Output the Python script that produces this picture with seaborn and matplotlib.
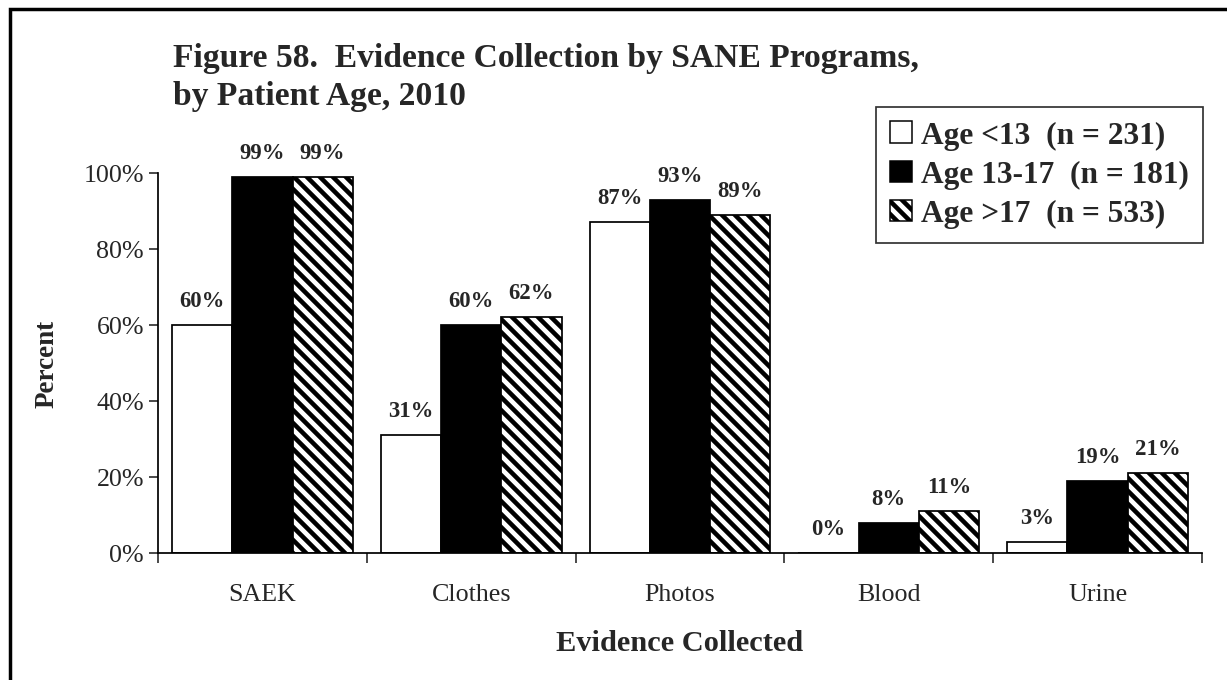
import matplotlib
matplotlib.use("Agg")
import matplotlib.pyplot as plt
import matplotlib.patches as mpatches
import seaborn as sns
import pandas as pd

# Evidence types and percentages by patient age group
categories = ["SAEK", "Clothes", "Photos", "Blood", "Urine"]
age_groups = ["Age <13  (n = 231)", "Age 13-17  (n = 181)", "Age >17  (n = 533)"]
under_13 = [60, 31, 87, 0, 3]
age_13_17 = [99, 60, 93, 8, 19]
over_17 = [99, 62, 89, 11, 21]
y_ticks = [0, 20, 40, 60, 80, 100]

df = pd.DataFrame({
    "Evidence": categories * 3,
    "Age": [age_groups[0]] * 5 + [age_groups[1]] * 5 + [age_groups[2]] * 5,
    "Percent": under_13 + age_13_17 + over_17,
})

sns.set_style("white")
plt.rcParams["font.family"] = ["Liberation Serif", "DejaVu Serif"]
plt.rcParams["hatch.linewidth"] = 4.2

DPI = 78
fig = plt.figure(figsize=(1227 / DPI, 681 / DPI), dpi=DPI)
ax = fig.add_axes([158 / 1227, 1 - 554 / 681, (1202 - 158) / 1227, (554 - 174) / 681])

sns.barplot(
    data=df, x="Evidence", y="Percent", hue="Age", order=categories,
    hue_order=age_groups, palette=["white", "black", "white"], saturation=1,
    edgecolor="black", linewidth=1.6, width=0.865, gap=0, ax=ax, legend=False,
)

hatches = [None, None, "\\\\"]
for cont, h in zip(ax.containers, hatches):
    for bar in cont.patches:
        if h:
            bar.set_hatch(h)
    # value labels above each bar
    for bar in cont.patches:
        v = bar.get_height()
        ax.annotate(f"{v:.0f}%", (bar.get_x() + bar.get_width() / 2, v),
                    xytext=(0, 17.5), textcoords="offset points",
                    ha="center", va="baseline", fontsize=21, fontweight="bold")

ax.set_ylim(0, 100)
ax.set_xlim(-0.5, len(categories) - 0.5)
ax.set_yticks(y_ticks)
ax.set_yticklabels([f"{t}%" for t in y_ticks], fontsize=24)
ax.tick_params(axis="y", direction="out", length=8, width=1.5, left=True, pad=5)

# category boundaries carry tick marks, names sit between them
ax.set_xticks([i - 0.5 for i in range(len(categories) + 1)])
ax.set_xticklabels([""] * (len(categories) + 1))
ax.set_xticks(range(len(categories)), minor=True)
ax.set_xticklabels(categories, minor=True, fontsize=24)
ax.tick_params(axis="x", which="major", direction="out", length=9, width=1.5, bottom=True)
ax.tick_params(axis="x", which="minor", length=0, pad=28)

for side in ["top", "right"]:
    ax.spines[side].set_visible(False)
for side in ["left", "bottom"]:
    ax.spines[side].set_linewidth(1.6)
    ax.spines[side].set_color("black")

ax.set_xlabel("Evidence Collected", fontsize=28, fontweight="bold", labelpad=22)
ax.set_ylabel("Percent", fontsize=25, fontweight="bold", labelpad=22)

handles = [mpatches.Patch(facecolor=c, edgecolor="black", hatch=h, linewidth=1.4)
           for c, h in zip(["white", "black", "white"], hatches)]
leg = fig.legend(handles, age_groups, loc="upper right",
                 bbox_to_anchor=(1203 / 1227, 1 - 108 / 681), borderaxespad=0,
                 prop={"size": 29, "weight": "bold"}, frameon=True, fancybox=False,
                 handlelength=0.68, handleheight=0.68, handletextpad=0.3,
                 labelspacing=0.32, borderpad=0.45)
leg.get_frame().set_edgecolor("black")
leg.get_frame().set_linewidth(1.6)

fig.text(173 / 1227, 1 - 43 / 681,
         "Figure 58.  Evidence Collection by SANE Programs,\nby Patient Age, 2010",
         ha="left", va="top", fontsize=31, fontweight="bold", linespacing=1.3)

# outer frame, open at the right and bottom edges
fig.add_artist(mpatches.Rectangle((10 / 1227, -0.2), 1.5, 1 - 10 / 681 + 0.2,
                                  transform=fig.transFigure, fill=False,
                                  edgecolor="black", linewidth=3.2, clip_on=False))

fig.savefig("out.png", dpi=DPI)
